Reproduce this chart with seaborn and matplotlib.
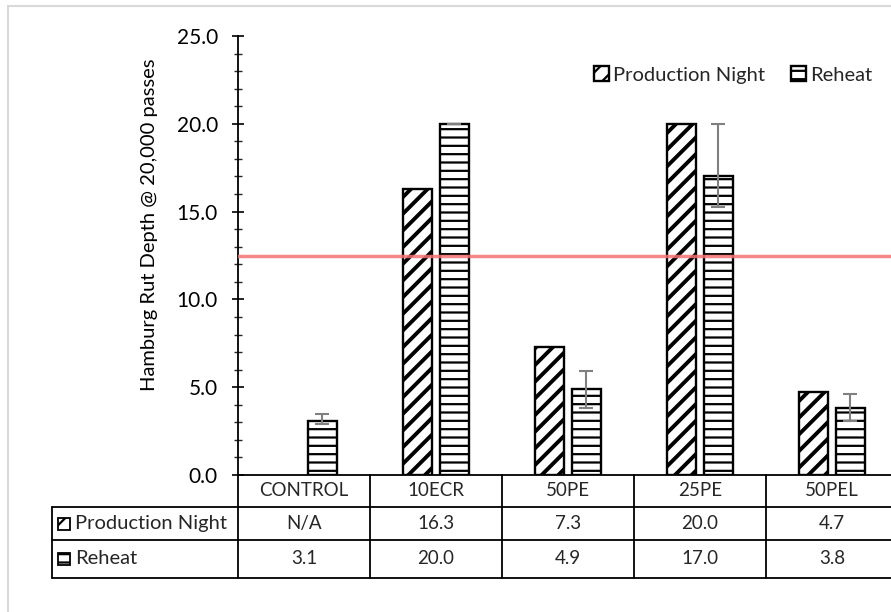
import numpy as np
import pandas as pd
import matplotlib
matplotlib.use("Agg")
import matplotlib.pyplot as plt
from matplotlib.patches import Rectangle
from matplotlib.ticker import MultipleLocator, FormatStrFormatter
import seaborn as sns

categories = ["CONTROL", "10ECR", "50PE", "25PE", "50PEL"]
series = ["Production Night", "Reheat"]
prod_night = [np.nan, 16.3, 7.3, 20.0, 4.7]
reheat = [3.1, 20.0, 4.9, 17.0, 3.8]
reheat_err_minus = [0.2, 0.0, 1.1, 1.75, 0.75]
reheat_err_plus = [0.35, 0.0, 1.05, 3.0, 0.8]
threshold = 12.5
y_label = "Hamburg Rut Depth @ 20,000 passes"

sns.set_theme(style="white")
plt.rcParams["font.family"] = ["Lato", "DejaVu Sans"]
plt.rcParams["hatch.linewidth"] = 1.6
plt.rcParams["hatch.color"] = "black"

df = pd.DataFrame({
    "category": categories * 2,
    "series": [series[0]] * len(categories) + [series[1]] * len(categories),
    "value": prod_night + reheat,
})

fig = plt.figure(figsize=(8.91, 6.12), dpi=100)
ax = fig.add_axes([238 / 891, 1 - 475 / 612, 660 / 891, 439 / 612])

sns.barplot(data=df, x="category", y="value", hue="series", order=categories,
            hue_order=series, width=0.56, gap=0.19, errorbar=None,
            palette=["white", "white"], edgecolor="black",
            linewidth=1.7, ax=ax, legend=False)

hatches = ["//", "--"]
hatch_lw = [2.8, 1.6]
for cont, h, hl in zip(ax.containers, hatches, hatch_lw):
    for p in cont.patches:
        p.set_hatch(h)
        p.set_edgecolor("black")
        p.set_facecolor("white")
        try:
            p.set_hatch_linewidth(hl)
        except AttributeError:
            pass

# error bars on reheat
reheat_cont = ax.containers[1]
xs = [p.get_x() + p.get_width() / 2 for p in reheat_cont.patches]
ax.errorbar(xs, reheat, yerr=[reheat_err_minus, reheat_err_plus], fmt="none",
            ecolor="#808080", elinewidth=1.5, capsize=5, capthick=1.5, zorder=5)

ax.axhline(threshold, color="#F47272", lw=2.5, alpha=0.85, zorder=6)

ax.set_xlim(-0.5, 4.5)
ax.set_ylim(0, 25)
ax.yaxis.set_major_locator(MultipleLocator(5))
ax.yaxis.set_minor_locator(MultipleLocator(1))
ax.yaxis.set_major_formatter(FormatStrFormatter("%.1f"))
ax.tick_params(axis="y", which="major", direction="inout", length=9, width=1.2,
               labelsize=15, colors="black", left=True, pad=10)
ax.tick_params(axis="y", which="minor", direction="inout", length=6, width=1.0,
               left=True)
ax.tick_params(axis="x", bottom=False, labelbottom=False)
ax.set_xlabel("")
ax.set_ylabel(y_label, fontsize=14.5, color="black")
ax.yaxis.set_label_coords(-0.121, 0.569)
for s in ["top", "right"]:
    ax.spines[s].set_visible(False)
for s in ["left", "bottom"]:
    ax.spines[s].set_color("black")
    ax.spines[s].set_linewidth(1.3)

# legend
leg = ax.legend(list(ax.containers), series, loc="upper right",
                bbox_to_anchor=(890 / 891, 1 - 48 / 612),
                bbox_transform=fig.transFigure, ncol=2, frameon=False,
                fontsize=14.5, handlelength=0.75, handleheight=0.75,
                handletextpad=0.2, columnspacing=1.25)

# data table
tr = ax.get_xaxis_transform()
left_x = (52 - 238) / 132 - 0.5
right_x = 4.5 + 10
row_y = [0, -32 / 439, -65 / 439, -103 / 439]
lc = dict(color="black", lw=1.3, clip_on=False, transform=tr)
for y in row_y[1:]:
    ax.plot([left_x, right_x], [y, y], **lc)
ax.plot([left_x, left_x], [row_y[1], row_y[3]], **lc)
for i in range(len(categories) + 1):
    ax.plot([i - 0.5, i - 0.5], [row_y[0], row_y[3]], **lc)

centers = [(row_y[i] + row_y[i + 1]) / 2 for i in range(3)]
for i, c in enumerate(categories):
    ax.text(i, centers[0], c, ha="center", va="center", fontsize=13.5,
            transform=tr, clip_on=False)
    pn = prod_night[i]
    ax.text(i, centers[1], "N/A" if np.isnan(pn) else f"{pn:.1f}",
            ha="center", va="center", fontsize=13.5, transform=tr, clip_on=False)
    ax.text(i, centers[2], f"{reheat[i]:.1f}", ha="center", va="center",
            fontsize=13.5, transform=tr, clip_on=False)

key_w = 12 / 132
key_h = 12 / 439
for j, (name, h) in enumerate(zip(series, hatches)):
    cy = centers[j + 1]
    ax.add_patch(Rectangle((left_x + 6 / 132, cy - key_h / 2), key_w, key_h,
                           facecolor="white", edgecolor="black", hatch=h,
                           lw=1.3, transform=tr, clip_on=False))
    ax.text(left_x + 23 / 132, cy, name, ha="left", va="center", fontsize=14.5,
            transform=tr, clip_on=False)

# chart area border
fig.add_artist(Rectangle((8 / 891, -0.1), 1.2, 1 - 6 / 612 + 0.1,
                         transform=fig.transFigure, fill=False,
                         edgecolor="#d9d9d9", lw=1.5, zorder=-1))

fig.savefig("out.png", dpi=100)
